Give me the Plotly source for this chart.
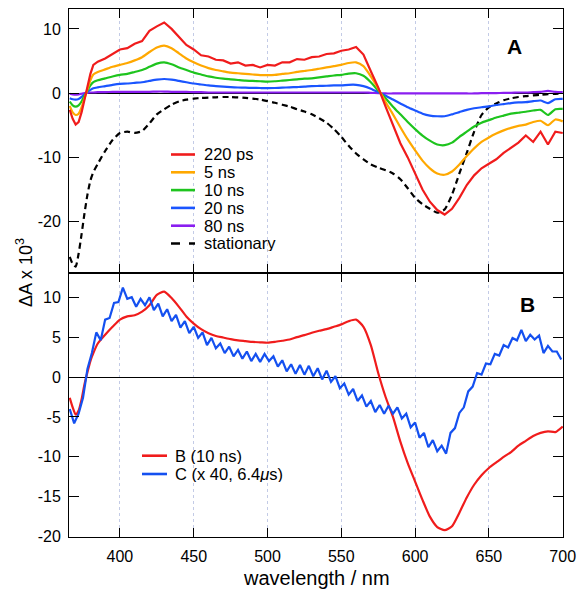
import plotly.graph_objects as go

# ---------------- data ----------------
WL_A = [366, 368, 370, 372, 374, 376, 378, 380, 382] + list(range(385, 701, 5))

A_220PS = [-2.6, -4.0, -4.9, -4.5, -3.0, -1.0, 0.8, 3.0, 4.4,
           4.9, 5.4, 6.1, 6.8, 7.0, 7.7, 8.1, 9.7, 10.4, 11.0, 10.0,
           8.7, 7.5, 6.8, 5.9, 5.7, 5.2, 5.1, 4.6, 4.8, 4.3,
           4.4, 4.0, 4.4, 4.3, 4.8, 4.8, 5.3, 5.2, 5.6, 5.7,
           6.1, 6.2, 6.6, 6.8, 7.2, 6.0, 3.4, 0.9, -2.1, -4.9,
           -7.8, -10.0, -12.5, -15.0, -16.9, -18.2, -18.9, -18.0, -16.3, -14.3,
           -12.8, -11.7, -11.0, -10.3, -9.3, -8.5, -7.7, -6.6, -7.6, -6.0,
           -8.0, -6.0, -6.2]

A_5NS = [-2.0, -3.0, -3.4, -3.2, -2.2, -0.8, 0.6, 2.0, 2.9,
         3.3, 3.7, 4.1, 4.4, 4.7, 5.1, 5.6, 6.4, 7.1, 7.4, 7.0,
         6.2, 5.4, 4.8, 4.3, 3.9, 3.6, 3.4, 3.2, 3.1, 3.0,
         2.9, 2.8, 2.8, 2.85, 3.0, 3.1, 3.3, 3.45, 3.6, 3.8,
         4.0, 4.2, 4.4, 4.7, 4.8, 4.2, 2.6, 0.7, -1.4, -3.3,
         -5.3, -7.2, -8.9, -10.5, -11.7, -12.5, -12.7, -12.2, -11.1, -9.8,
         -8.6, -7.6, -6.9, -6.3, -5.8, -5.4, -5.1, -4.9, -4.5, -4.3,
         -5.0, -4.1, -4.4]

A_10NS = [-1.3, -1.9, -2.1, -1.9, -1.3, -0.4, 0.4, 1.2, 1.7,
          2.0, 2.3, 2.6, 2.85, 3.0, 3.3, 3.6, 4.1, 4.6, 4.8, 4.5,
          4.0, 3.6, 3.2, 2.9, 2.6, 2.4, 2.25, 2.15, 2.05, 1.95,
          1.9, 1.85, 1.8, 1.85, 1.95, 2.05, 2.15, 2.25, 2.3, 2.45,
          2.6, 2.75, 2.85, 3.05, 3.1, 2.7, 1.7, 0.4, -0.8, -2.1,
          -3.3, -4.5, -5.6, -6.6, -7.4, -8.0, -8.1, -7.7, -6.8, -6.0,
          -5.2, -4.6, -4.2, -3.8, -3.5, -3.2, -3.05, -2.9, -2.7, -2.6,
          -3.4, -2.5, -2.45]

A_20NS = [-0.8, -0.95, -1.0, -0.9, -0.6, -0.2, 0.2, 0.5, 0.75,
          0.9, 1.1, 1.3, 1.45, 1.5, 1.6, 1.7, 1.9, 2.1, 2.2, 2.1,
          1.9, 1.7, 1.5, 1.35, 1.2, 1.1, 1.0, 0.93, 0.88, 0.85,
          0.82, 0.8, 0.78, 0.8, 0.85, 0.9, 0.95, 1.0, 1.1, 1.12,
          1.15, 1.2, 1.2, 1.3, 1.3, 1.1, 0.7, 0.15, -0.4, -1.0,
          -1.6, -2.2, -2.7, -3.2, -3.5, -3.6, -3.6, -3.3, -2.95, -2.6,
          -2.35, -2.2, -2.05, -1.85, -1.7, -1.55, -1.45, -1.4, -1.25, -1.15,
          -1.55, -0.95, -0.9]

A_80NS = [-0.1, -0.2, -0.25, -0.2, -0.1, 0.0, 0.05, 0.1, 0.1,
          0.15, 0.15, 0.2, 0.2, 0.2, 0.2, 0.2, 0.2, 0.25, 0.25, 0.2,
          0.2, 0.2, 0.15, 0.15, 0.1, 0.1, 0.1, 0.1, 0.1, 0.1,
          0.1, 0.1, 0.1, 0.1, 0.1, 0.1, 0.1, 0.1, 0.1, 0.1,
          0.1, 0.1, 0.1, 0.1, 0.1, 0.1, 0.05, 0.0, -0.05, -0.05,
          -0.05, -0.05, -0.05, -0.05, -0.05, -0.05, -0.05, -0.05, -0.05, -0.05,
          -0.05, 0.0, 0.0, 0.0, 0.05, 0.05, 0.1, 0.1, 0.15, 0.2,
          0.35, 0.2, 0.15]

A_STATIONARY = [-25.5, -26.6, -27.0, -25.0, -22.0, -18.7, -15.8, -13.6, -12.3,
                -11.0, -9.0, -7.3, -6.2, -6.0, -6.2, -5.9, -4.7, -3.3, -2.5, -1.8,
                -1.3, -1.0, -0.85, -0.75, -0.7, -0.65, -0.6, -0.6, -0.65, -0.75,
                -0.85, -1.0, -1.25, -1.5, -1.8, -2.1, -2.5, -2.85, -3.3, -3.9,
                -4.6, -5.6, -6.8, -8.2, -9.4, -10.3, -11.1, -11.6, -12.0, -12.5,
                -13.4, -14.8, -16.3, -17.3, -18.0, -18.6, -18.1, -15.8, -12.5, -9.3,
                -6.0, -3.4, -2.2, -1.6, -1.1, -0.8, -0.6, -0.45, -0.35, -0.25,
                -0.15, -0.1, -0.05]

B_10NS = [-2.6, -3.8, -4.7, -4.2, -2.8, -0.9, 0.6, 2.0, 3.0,
          4.2, 5.3, 6.3, 7.2, 7.6, 7.75, 8.2, 9.0, 10.3, 10.7, 9.9,
          8.8, 7.6, 6.7, 6.0, 5.5, 5.15, 4.95, 4.75, 4.6, 4.5,
          4.4, 4.35, 4.3, 4.4, 4.55, 4.7, 5.0, 5.25, 5.55, 5.8,
          6.0, 6.3, 6.6, 7.0, 7.2, 6.3, 4.0, 0.5, -2.5, -5.0,
          -8.1, -10.8, -13.1, -15.4, -17.5, -18.8, -19.2, -18.7, -17.0, -15.1,
          -13.5, -12.3, -11.4, -10.7, -10.0, -9.4, -8.6, -8.0, -7.4, -7.0,
          -6.8, -6.9, -6.2]

WL_C = list(range(366, 700, 3))
C_X40 = [-4.0, -5.8, -4.6, -2.6, 1.0, 3.0, 5.6, 4.6, 7.2, 7.4,
         9.3, 9.4, 11.2, 9.8, 10.0, 8.8, 9.8, 9.0, 10.0, 8.4,
         9.2, 7.6, 8.5, 7.0, 7.8, 6.2, 7.0, 5.5, 6.3, 4.9,
         5.6, 4.0, 4.9, 3.6, 4.2, 3.0, 3.8, 2.6, 3.4, 2.3,
         3.2, 2.0, 2.9, 1.9, 2.9, 2.0, 2.6, 1.3, 2.1, 0.7,
         1.6, 0.4, 1.5, 0.3, 1.4, 0.1, 1.1, -0.3, 0.8, -0.6,
         0.1, -1.4, -0.8, -2.2, -1.5, -3.0, -2.3, -3.7, -3.0, -4.4,
         -3.5, -4.6, -3.6, -4.6, -3.8, -5.2, -4.6, -6.3, -5.7, -7.6,
         -7.0, -8.8, -7.9, -9.3, -8.6, -9.6, -7.0, -6.4, -4.5, -3.8,
         -1.8, -1.2, 0.5, 0.3, 1.7, 1.6, 2.9, 2.7, 4.0, 3.7,
         4.9, 4.6, 5.9, 4.5, 5.3, 4.7, 5.2, 3.0, 3.9, 3.2,
         3.2, 2.2]

NAMES_A = ["220 ps", "5 ns", "10 ns", "20 ns", "80 ns", "stationary"]
NAMES_B = ["B (10 ns)", "C (x 40, 6.4<i>μ</i>s)"]

X_TICKS = [400, 450, 500, 550, 600, 650, 700]
YA_TICKS = [-20, -10, 0, 10]
YA_LABELS = ["-20", "-10", "0", "10"]
YB_TICKS = [-20, -15, -10, -5, 0, 5, 10]
YB_LABELS = ["-20", "-15", "-10", "-5", "0", "5", "10"]

# ---------------- styling ----------------
FONT = "Liberation Sans, Arial, Helvetica, sans-serif"
RED = "#f01c1c"
ORANGE = "#ffa800"
GREEN = "#1ec41e"
BLUE = "#1a55ff"
PURPLE = "#8a1ef0"
BLUE_C = "#1450f0"
LW = 2.2

W, H = 587, 600
ML, MR, MT, MB = 69, 24, 9, 63
PW, PH = W - ML - MR, H - MT - MB


def px2paper(px, py):
    return (px - ML) / PW, (H - MB - py) / PH


fig = go.Figure()

series_a = [A_220PS, A_5NS, A_10NS, A_20NS, A_80NS, A_STATIONARY]
colors_a = [RED, ORANGE, GREEN, BLUE, PURPLE, "black"]
dashes_a = ["solid"] * 5 + ["6px,4px"]
order = [5, 4, 3, 2, 1, 0]
for i in order:
    fig.add_trace(go.Scatter(
        x=WL_A, y=series_a[i], name=NAMES_A[i], mode="lines",
        line=dict(color=colors_a[i], width=LW, dash=dashes_a[i],
                  shape="linear" if i == 0 else "spline", smoothing=0.6),
        xaxis="x2", yaxis="y2", showlegend=False))

fig.add_trace(go.Scatter(
    x=WL_A, y=B_10NS, name=NAMES_B[0], mode="lines",
    line=dict(color=RED, width=LW, shape="spline", smoothing=0.6),
    xaxis="x", yaxis="y", showlegend=False))
fig.add_trace(go.Scatter(
    x=WL_C, y=C_X40, name=NAMES_B[1], mode="lines",
    line=dict(color=BLUE_C, width=LW),
    xaxis="x", yaxis="y", showlegend=False))

axis_common = dict(
    showline=True, linecolor="black", linewidth=1, mirror="ticks",
    ticks="inside", tickcolor="black", tickwidth=1,
    tickfont=dict(family=FONT, size=16, color="black"),
    zeroline=False,
)

xcommon = dict(axis_common, range=[365.5, 700.2], tickvals=X_TICKS,
               showgrid=True, gridcolor="#c3cbe6", gridwidth=1, griddash="dot",
               ticklen=9)

fig.update_layout(
    width=W, height=H,
    margin=dict(l=ML, r=MR, t=MT, b=MB),
    paper_bgcolor="white", plot_bgcolor="white",
    font=dict(family=FONT, color="black"),
    showlegend=False,
    xaxis=dict(xcommon, domain=[0, 1], anchor="y", ticklabelstandoff=5),
    xaxis2=dict(xcommon, domain=[0, 1], anchor="y2", matches="x",
                showticklabels=False),
    yaxis=dict(axis_common, domain=[0, 0.5], anchor="x",
               range=[-20.05, 13.04], tickvals=YB_TICKS, ticktext=YB_LABELS,
               ticklen=10, showgrid=False, ticklabelstandoff=4,
               zeroline=True, zerolinecolor="black", zerolinewidth=1.2),
    yaxis2=dict(axis_common, domain=[0.5, 1], anchor="x2",
                range=[-28, 13.1], tickvals=YA_TICKS, ticktext=YA_LABELS,
                ticklen=10, showgrid=False, ticklabelstandoff=4,
                zeroline=True, zerolinecolor="black", zerolinewidth=1),
)

annotations = []
shapes = []

LEG_FONT = 16.5
# legend of panel A (paper-positioned samples + text)
rows_a = [154.5, 172.3, 190.1, 207.9, 225.7, 243.5]
for k, name in enumerate(NAMES_A):
    x0, y = px2paper(171, rows_a[k])
    x1, _ = px2paper(195, rows_a[k])
    shapes.append(dict(type="line", xref="paper", yref="paper",
                       x0=x0, x1=x1, y0=y, y1=y,
                       line=dict(color=colors_a[k], width=LW + 0.4,
                                 dash="dash" if k == 5 else "solid")))
    tx, _ = px2paper(203, rows_a[k])
    annotations.append(dict(xref="paper", yref="paper", x=tx, y=y,
                            text=name, showarrow=False, xanchor="left",
                            yanchor="middle", height=16, borderpad=0,
                            font=dict(family=FONT, size=LEG_FONT, color="black")))

# legend of panel B
rows_b = [455.7, 474]
colors_b = [RED, BLUE_C]
for k, name in enumerate(NAMES_B):
    x0, y = px2paper(142, rows_b[k])
    x1, _ = px2paper(167, rows_b[k])
    shapes.append(dict(type="line", xref="paper", yref="paper",
                       x0=x0, x1=x1, y0=y, y1=y,
                       line=dict(color=colors_b[k], width=LW + 0.4)))
    tx, _ = px2paper(174, rows_b[k])
    annotations.append(dict(xref="paper", yref="paper", x=tx, y=y,
                            text=name, showarrow=False, xanchor="left",
                            yanchor="middle", height=16, borderpad=0,
                            font=dict(family=FONT, size=LEG_FONT, color="black")))

# panel letters
for letter, (lx, ly) in [("A", (514, 46)), ("B", (527.5, 304.5))]:
    ax, ay = px2paper(lx, ly)
    annotations.append(dict(xref="paper", yref="paper", x=ax, y=ay,
                            text="<b>%s</b>" % letter, showarrow=False,
                            xanchor="center", yanchor="middle",
                            font=dict(family=FONT, size=21, color="black")))

# axis titles
tx, ty = px2paper(24, 273)
annotations.append(dict(xref="paper", yref="paper", x=tx, y=ty,
                        text="ΔA x 10<sup>3</sup>", textangle=-90,
                        showarrow=False, xanchor="center", yanchor="middle",
                        font=dict(family=FONT, size=18, color="black")))
tx, ty = px2paper(316, 578)
annotations.append(dict(xref="paper", yref="paper", x=tx, y=ty,
                        text="wavelength / nm", showarrow=False,
                        xanchor="center", yanchor="middle",
                        font=dict(family=FONT, size=20, color="black")))

fig.update_layout(annotations=annotations, shapes=shapes)

fig.write_html("out.html",
               config={"displayModeBar": False},
               post_script="document.body.style.margin='0px';"
                           "document.body.style.padding='0px';")
